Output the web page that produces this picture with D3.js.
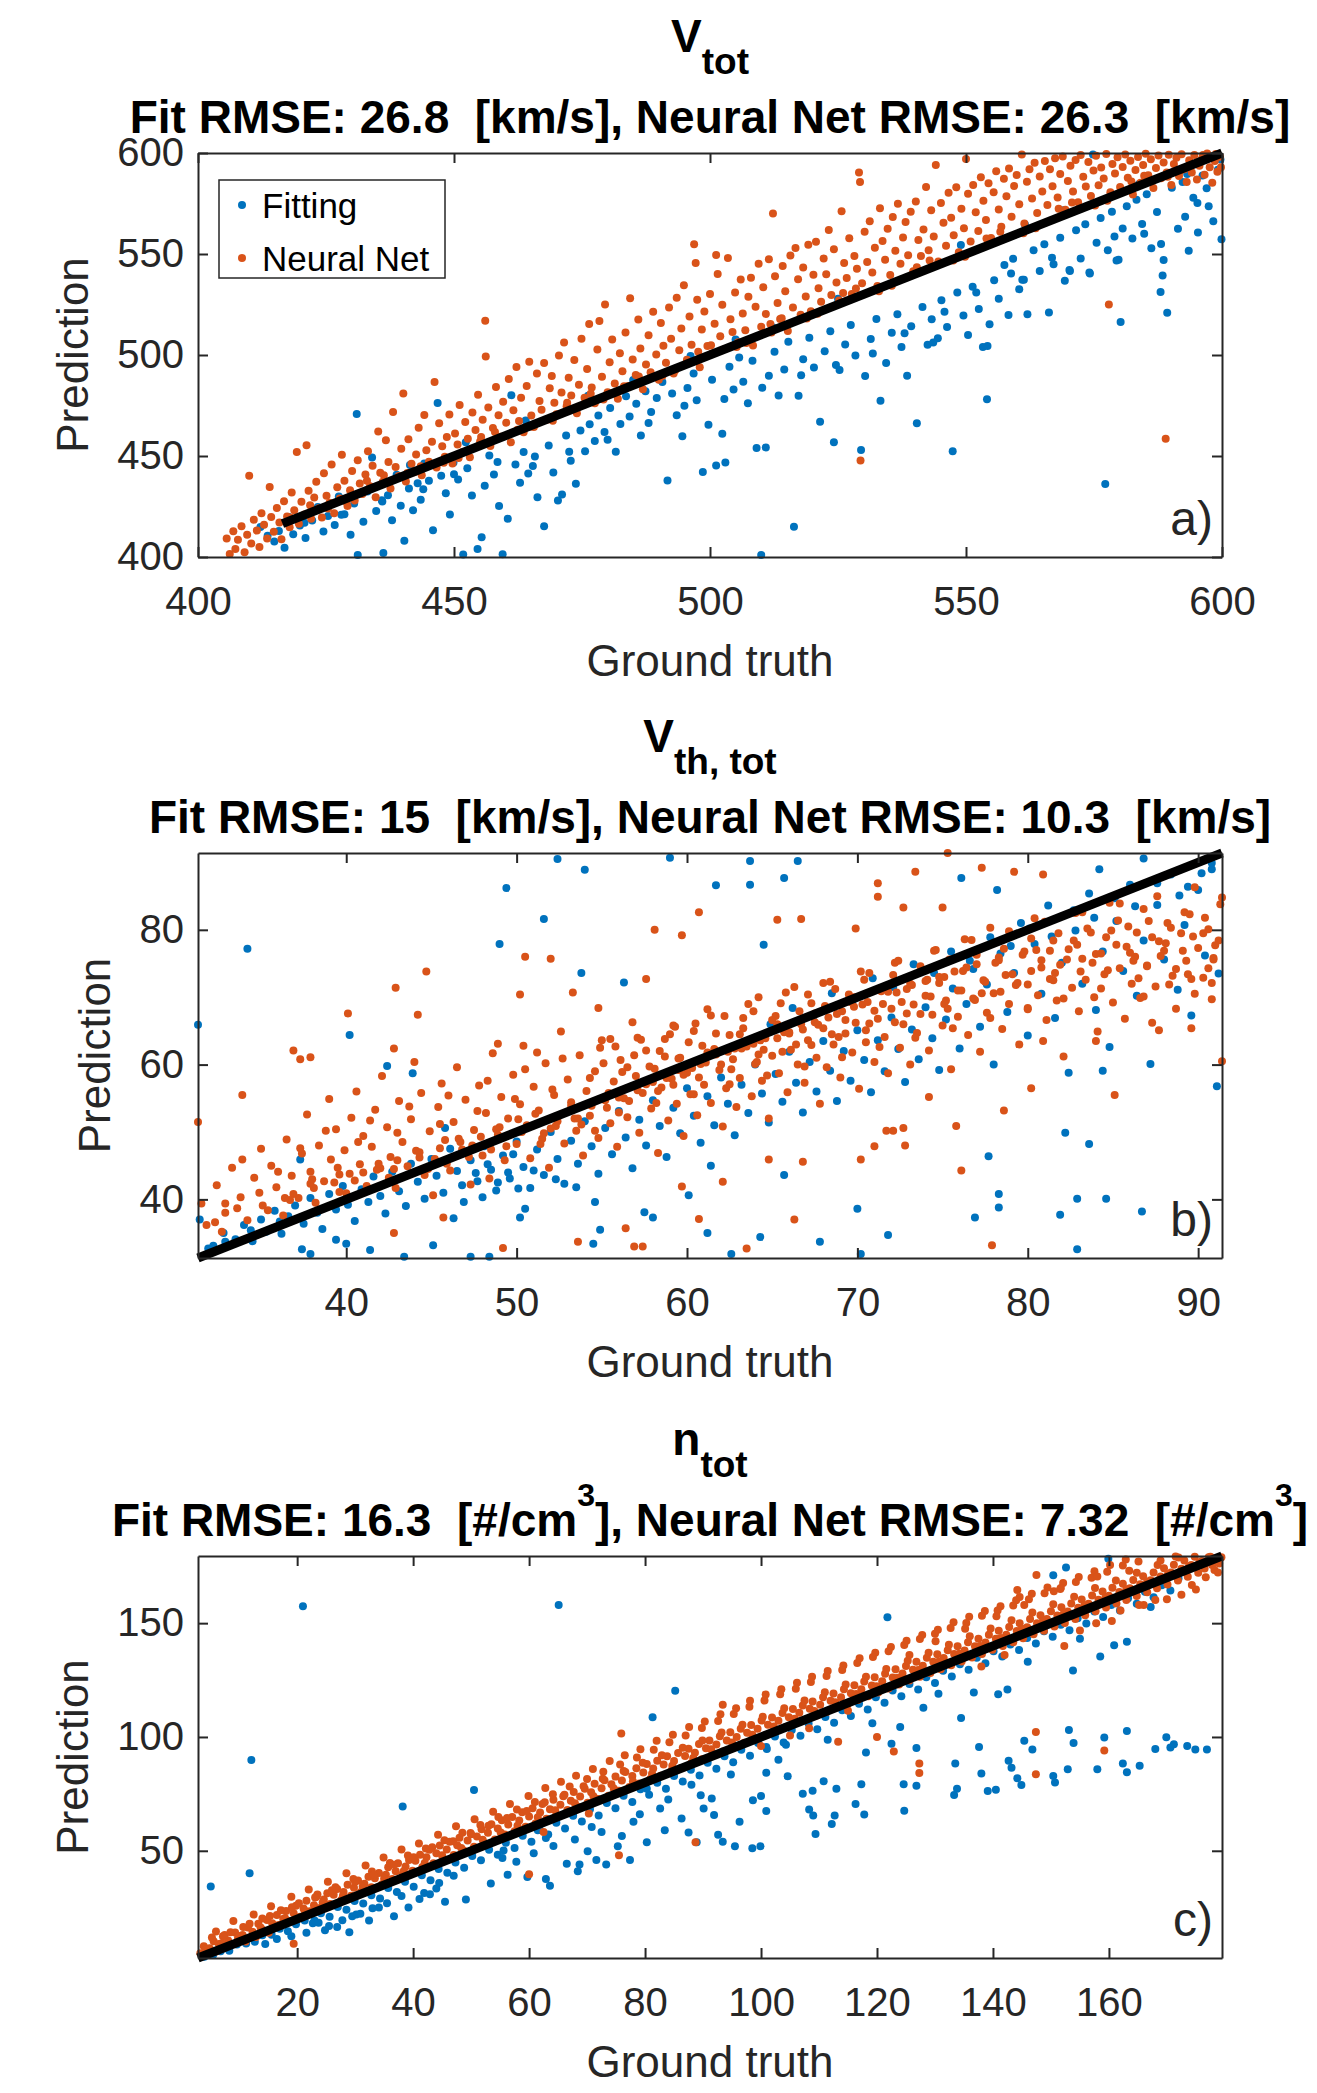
<!DOCTYPE html>
<html>
<head>
<meta charset="utf-8">
<script src="https://cdn.jsdelivr.net/npm/d3@7"></script>
<style>
body { margin: 0; background: #fff; }
svg { display: block; font-family: "Liberation Sans", Arial, sans-serif; }
</style>
</head>
<body>
<svg id="fig" width="1317" height="2093"></svg>
<script>
// ---- data ----
const panelLetters = ['a)', 'b)', 'c)'];
const titleSymbols = [['V', 'tot'], ['V', 'th, tot'], ['n', 'tot']];
const titleRmse = [
    'Fit RMSE: 26.8  [km/s], Neural Net RMSE: 26.3  [km/s]',
    'Fit RMSE: 15  [km/s], Neural Net RMSE: 10.3  [km/s]',
    'Fit RMSE: 16.3  [#/cm^3], Neural Net RMSE: 7.32  [#/cm^3]'
];
const xLabel = 'Ground truth';
const yLabel = 'Prediction';
const legendLabels = ['Fitting', 'Neural Net'];

const domains = [[400, 600], [31.3, 91.4], [2.9, 179.5]];
const xTicks = [[400, 450, 500, 550, 600], [40, 50, 60, 70, 80, 90], [20, 40, 60, 80, 100, 120, 140, 160]];
const yTicks = [[400, 450, 500, 550, 600], [40, 60, 80], [50, 100, 150]];

// black reference lines (ground truth = prediction)
const diagA = [[416.5, 416.5], [600, 600]];
const diagB = [[31.3, 31.3], [91.4, 91.4]];
const diagC = [[2.9, 2.9], [179.5, 179.5]];

// panel a, Fitting  [ground truth, prediction]
const fitA = [[412.2,414.8],[413.6,410.5],[414.9,407.7],[415.8,412.9],[416.9,404.6],[417.7,419.8],[418.6,411.3],[419.9,415.6],[421.0,409.4],[422.3,418.1],[423.4,424.7],[424.5,412.6],[425.4,420.3],[426.7,415.8],[427.5,429.9],[428.6,421.2],[429.8,411.0],[430.5,426.5],[431.0,470.8],[431.2,401.0],[432.3,417.4],[433.1,432.4],[434.0,449.3],[434.8,422.8],[435.9,428.1],[436.2,402.0],[437.1,430.6],[437.9,418.2],[438.8,440.7],[439.6,425.4],[440.3,408.0],[441.2,433.9],[442.0,423.1],[442.9,436.5],[443.5,428.3],[444.2,446.3],[445.1,437.7],[445.9,413.2],[446.8,476.2],[447.5,440.2],[448.4,431.6],[449.2,421.0],[449.9,446.8],[450.8,438.4],[451.8,401.2],[452.6,443.9],[453.5,430.5],[454.6,403.9],[455.4,409.8],[456.0,435.3],[456.9,450.2],[457.8,440.8],[458.8,425.2],[459.5,401.3],[460.5,418.9],[461.2,480.1],[462.0,445.8],[462.9,436.7],[463.6,452.0],[464.5,441.3],[465.4,445.0],[466.3,429.6],[467.6,415.2],[468.5,455.2],[469.4,441.8],[470.3,428.0],[471.1,431.0],[471.9,460.1],[472.8,447.6],[473.8,436.3],[474.7,462.6],[475.6,452.3],[476.5,465.7],[477.5,457.4],[478.2,470.0],[479.4,461.9],[480.5,473.8],[481.6,452.1],[482.5,465.8],[483.6,479.6],[484.3,469.5],[485.6,475.9],[486.5,460.2],[487.4,482.0],[488.5,471.8],[489.6,478.7],[490.7,486.6],[491.7,437.9],[492.6,480.9],[493.5,470.2],[494.6,459.8],[495.6,483.7],[496.8,490.9],[497.4,477.6],[498.6,442.1],[499.7,465.5],[500.4,487.8],[501.2,445.3],[502.4,461.0],[503.0,446.8],[503.8,494.2],[504.6,482.9],[505.7,498.8],[506.5,486.7],[507.4,476.1],[508.3,497.2],[509.1,454.0],[510.0,401.0],[510.9,454.2],[511.5,489.7],[512.6,501.6],[513.4,480.0],[514.5,492.8],[515.3,506.5],[516.4,415.0],[517.3,479.8],[518.2,497.9],[519.4,508.6],[520.3,493.8],[521.5,467.0],[522.4,501.8],[523.5,511.7],[524.2,456.8],[525.3,492.6],[526.4,505.2],[527.5,514.9],[528.4,499.7],[529.5,453.0],[530.3,489.6],[531.4,507.9],[532.5,517.8],[533.3,477.3],[534.4,496.1],[535.5,511.0],[536.6,520.2],[537.4,503.9],[538.5,489.7],[539.3,514.2],[540.4,466.2],[541.5,523.8],[542.5,505.1],[543.3,517.7],[544.5,508.3],[545.2,527.1],[546.3,513.8],[547.4,452.4],[548.3,530.9],[549.5,519.6],[550.4,509.9],[551.3,533.8],[552.5,522.8],[553.3,504.0],[554.1,478.1],[554.6,515.2],[555.5,537.0],[556.4,527.8],[557.5,544.6],[558.3,519.8],[559.2,547.7],[560.4,532.6],[561.3,537.3],[562.0,520.2],[563.2,551.9],[564.4,541.6],[565.3,554.8],[566.2,521.1],[567.1,544.9],[568.4,558.0],[569.3,536.7],[570.2,542.1],[571.5,561.8],[572.4,547.8],[573.3,564.7],[574.1,540.9],[574.8,599.2],[575.5,555.6],[576.3,567.8],[577.2,436.1],[577.7,551.9],[578.5,570.9],[579.4,546.8],[580.2,516.3],[580.6,562.6],[581.4,573.7],[582.5,557.7],[583.3,576.9],[584.4,564.8],[585.3,579.6],[586.2,552.8],[587.3,570.8],[588.0,531.2],[588.4,539.3],[588.6,547.0],[589.3,520.9],[590.2,582.8],[591.4,562.5],[592.3,585.7],[593.5,551.6],[594.4,577.8],[595.3,560.7],[596.2,588.8],[597.4,573.7],[598.3,566.2],[599.2,591.7],[599.9,557.3],[599.7,596.8],[597.0,582.6],[593.2,589.6],[583.8,584.7],[569.0,571.7],[561.5,564.6],[549.0,554.5],[534.8,534.6],[525.0,527.8],[512.3,513.6],[505.0,507.7],[496.2,499.5],[485.0,487.6],[476.2,479.8],[464.0,467.6],[452.3,456.8],[441.4,445.6],[554.2,504.5],[543.6,506.2],[561.0,537.2],[570.3,541.6],[574.2,540.4],[579.8,547.1],[588.1,555.0],[592.8,568.4],[595.2,575.2],[584.8,560.0],[579.0,558.7],[566.8,548.2],[558.8,540.3],[552.0,531.0],[545.8,521.4],[538.0,510.8],[531.8,500.7],[524.6,495.0],[517.8,490.0],[510.2,483.8],[502.8,478.2],[495.0,474.9],[488.0,466.3],[480.0,458.0],[472.5,452.1],[465.8,449.8],[458.5,447.0],[450.0,441.0],[444.0,433.6],[436.0,427.5],[428.0,420.9],[420.8,417.0]];

// panel a, Neural Net
const netA = [[405.6,409.1],[406.2,401.5],[406.9,412.8],[407.3,404.0],[407.8,408.6],[408.5,415.2],[409.1,402.3],[409.6,411.0],[410.0,440.2],[410.4,406.7],[410.9,418.5],[411.5,413.1],[412.0,404.9],[412.4,421.7],[412.9,416.0],[413.5,409.2],[414.0,434.6],[414.3,419.8],[414.8,412.5],[415.4,424.3],[415.9,417.1],[416.3,408.8],[416.8,427.6],[417.4,420.0],[417.9,414.7],[418.3,431.9],[418.8,423.2],[419.3,452.0],[419.7,416.5],[420.2,427.4],[420.8,421.0],[421.2,455.3],[421.6,432.8],[422.1,418.9],[422.7,429.5],[423.1,437.2],[423.6,424.1],[424.2,419.6],[424.6,441.4],[425.1,430.3],[425.7,426.9],[426.1,445.8],[426.6,421.7],[427.2,434.5],[427.7,429.0],[428.1,450.6],[428.6,437.8],[429.2,425.3],[429.7,433.1],[430.1,442.6],[430.6,428.0],[431.2,447.9],[431.6,436.4],[432.1,431.2],[432.7,440.9],[433.2,452.3],[433.6,435.0],[434.1,445.2],[434.7,429.6],[435.2,462.1],[435.6,441.7],[436.1,437.3],[436.7,457.8],[437.2,447.0],[437.6,433.9],[438.1,471.8],[438.6,444.5],[439.2,440.1],[439.7,453.6],[440.1,481.0],[440.6,437.4],[441.1,458.3],[441.7,446.2],[442.2,442.0],[442.6,450.8],[443.1,464.0],[443.7,440.5],[444.2,470.3],[444.6,452.9],[445.1,447.1],[445.7,457.0],[446.2,486.6],[446.6,444.3],[447.1,466.2],[447.7,454.8],[448.2,449.6],[448.6,459.4],[449.1,470.6],[449.7,446.3],[450.2,461.1],[450.7,455.7],[451.1,475.2],[451.6,451.8],[452.2,466.8],[452.7,458.6],[453.1,449.4],[453.6,471.5],[454.2,462.9],[454.7,480.3],[455.1,457.2],[455.6,467.9],[456.1,517.0],[456.2,499.2],[456.7,474.0],[457.1,455.0],[457.6,463.8],[458.2,484.2],[458.7,470.2],[459.1,459.5],[459.6,476.9],[460.2,466.5],[460.7,488.1],[461.1,456.8],[461.6,472.6],[462.2,494.0],[462.7,467.3],[463.1,478.8],[463.6,461.7],[464.2,484.6],[464.7,496.6],[465.1,470.0],[465.6,464.4],[466.2,490.8],[466.7,477.2],[467.1,472.9],[467.6,496.0],[468.2,468.1],[468.7,483.5],[469.1,489.6],[469.6,476.3],[470.0,470.7],[470.5,499.8],[471.0,481.4],[471.5,506.2],[472.0,474.6],[472.4,488.7],[472.9,479.9],[473.5,497.5],[474.0,471.2],[474.4,485.3],[474.9,508.0],[475.5,478.8],[476.0,493.1],[476.4,515.3],[476.9,483.9],[477.5,476.1],[478.0,502.7],[478.4,516.8],[478.9,489.2],[479.5,525.0],[480.0,481.6],[480.4,496.4],[480.9,507.7],[481.4,485.9],[482.0,478.3],[482.4,500.9],[482.9,492.0],[483.5,511.2],[484.0,484.7],[484.4,528.1],[484.9,497.8],[485.5,490.1],[486.0,517.6],[486.4,503.2],[486.9,483.0],[487.5,495.3],[488.0,509.8],[488.4,491.5],[488.9,521.4],[489.5,500.3],[490.0,487.7],[490.4,515.9],[490.9,504.6],[491.4,496.2],[492.0,523.5],[492.4,508.0],[492.9,490.8],[493.5,528.3],[494.0,502.4],[494.4,513.1],[494.9,534.5],[495.5,497.7],[496.0,519.0],[496.4,505.1],[496.9,554.8],[497.2,545.6],[497.5,527.4],[498.0,493.9],[498.4,512.6],[498.9,521.5],[499.5,504.4],[500.0,530.2],[500.4,500.7],[500.9,515.5],[501.2,549.5],[501.5,540.1],[502.0,509.3],[502.4,524.9],[502.9,503.0],[503.5,548.0],[504.0,517.7],[504.4,511.4],[504.9,531.0],[505.5,506.3],[506.0,537.4],[506.4,520.6],[506.9,512.2],[507.5,528.8],[508.0,538.3],[508.4,504.7],[508.9,523.9],[509.5,545.2],[510.0,514.0],[510.4,533.6],[510.9,520.3],[511.5,547.4],[512.0,511.1],[512.3,570.1],[512.7,539.0],[513.2,525.7],[513.7,517.8],[514.2,544.0],[514.7,531.6],[515.2,511.9],[515.7,549.2],[516.2,523.5],[516.7,553.0],[517.2,537.5],[517.7,519.9],[518.2,543.3],[518.7,529.0],[519.2,554.6],[519.7,521.6],[520.2,539.7],[520.7,556.1],[521.2,533.1],[521.7,526.4],[522.2,547.8],[522.7,540.0],[523.2,561.9],[523.7,529.7],[524.2,552.4],[524.7,535.9],[525.2,527.0],[525.7,571.2],[526.2,545.5],[526.7,538.1],[527.2,557.8],[527.7,530.2],[528.2,549.0],[528.7,542.7],[529.1,590.3],[529.3,585.6],[529.7,535.5],[529.4,447.8],[530.2,561.0],[530.7,546.0],[531.2,566.2],[531.7,540.9],[532.2,553.1],[532.7,534.2],[533.2,572.6],[533.7,556.4],[534.2,547.1],[534.7,562.5],[535.2,539.6],[535.7,568.3],[536.2,551.6],[536.7,574.9],[537.2,545.2],[537.7,558.2],[538.2,565.8],[538.7,549.4],[539.2,570.9],[539.7,541.5],[540.2,576.0],[540.7,556.9],[541.2,549.0],[541.7,562.1],[542.2,583.2],[542.7,551.8],[543.2,571.7],[543.7,558.7],[544.1,594.0],[544.6,546.3],[545.1,575.2],[545.6,565.5],[546.1,554.1],[546.6,580.3],[547.1,568.0],[547.6,559.3],[548.1,583.0],[548.6,550.9],[549.1,572.4],[549.6,562.7],[550.0,597.0],[550.4,579.8],[550.9,556.2],[551.4,584.1],[551.9,570.7],[552.4,561.4],[552.9,588.0],[553.4,576.3],[553.9,566.8],[554.4,585.0],[554.9,557.9],[555.4,580.6],[555.9,591.0],[556.4,572.0],[556.9,563.5],[557.4,587.2],[557.9,578.6],[558.4,592.3],[558.9,568.4],[559.4,583.7],[559.9,589.1],[560.4,574.6],[560.9,599.2],[561.4,565.1],[561.9,585.8],[562.4,592.0],[562.9,577.5],[563.4,595.2],[563.9,570.3],[564.4,588.4],[564.9,581.0],[565.4,596.1],[565.9,574.2],[566.4,591.9],[566.9,583.5],[567.4,597.4],[567.9,578.0],[568.4,589.6],[568.9,598.3],[569.4,571.9],[569.9,586.1],[570.4,593.7],[570.9,580.9],[571.4,596.5],[571.9,575.6],[572.4,599.0],[572.9,588.2],[573.4,583.4],[573.9,595.6],[574.4,578.7],[574.9,591.3],[575.4,598.6],[575.9,584.0],[576.4,592.8],[576.9,587.4],[577.4,599.5],[577.9,525.0],[578.2,580.6],[578.6,594.6],[579.1,589.8],[579.6,597.9],[580.1,583.2],[580.6,593.1],[581.1,599.3],[581.6,587.7],[582.1,596.2],[582.6,579.4],[583.1,591.6],[583.6,598.0],[584.1,585.3],[584.6,594.1],[585.1,599.6],[585.6,589.0],[586.1,596.9],[586.6,582.7],[587.1,592.6],[587.6,598.8],[588.1,587.5],[588.6,595.3],[589.0,458.5],[589.2,590.3],[589.6,599.1],[590.1,584.1],[590.6,594.5],[591.1,597.6],[591.6,588.6],[592.1,599.4],[592.6,592.0],[593.1,585.6],[593.6,596.4],[594.1,590.4],[594.6,599.0],[595.1,586.9],[595.6,593.7],[596.1,597.3],[596.6,589.2],[597.1,599.7],[597.6,592.9],[598.1,585.3],[598.6,596.0],[599.1,590.7],[599.6,598.2],[599.8,593.0],[418.0,419.5],[425.4,424.0],[433.0,437.8],[440.9,441.6],[448.0,446.7],[455.3,459.4],[462.4,463.0],[469.3,467.5],[476.7,480.8],[483.2,484.5],[490.7,489.6],[497.7,501.6],[505.2,504.0],[511.8,515.3],[518.9,518.1],[526.0,530.7],[533.0,531.6],[540.4,543.5],[547.5,546.8],[554.0,557.7],[561.2,560.3],[568.1,572.4],[575.2,574.0],[582.3,585.9],[589.4,588.2],[596.3,599.0],[421.9,425.6],[429.0,427.2],[436.3,440.5],[443.5,444.9],[450.9,449.0],[458.0,461.9],[465.0,464.6],[472.1,476.4],[479.2,478.0],[486.1,489.3],[493.2,492.5],[500.2,504.8],[507.1,505.9],[514.0,518.2],[521.0,520.4],[528.5,532.9],[535.5,534.3],[542.9,546.8],[549.8,548.7],[556.7,561.0],[563.6,562.8],[570.7,575.5],[577.6,576.4],[584.8,588.7],[591.8,591.0],[598.8,599.5]];

// panel b, Fitting
const fitB = [[32.2,33.1],[32.8,35.0],[33.5,34.1],[34.0,36.2],[34.5,33.8],[35.0,37.0],[35.3,35.2],[35.8,38.3],[36.2,34.9],[36.6,37.5],[37.0,39.1],[37.5,36.4],[37.9,40.2],[38.3,38.0],[38.6,35.6],[39.0,40.8],[39.4,38.5],[39.8,42.0],[40.1,39.2],[40.5,36.8],[40.9,41.5],[41.3,39.6],[41.6,43.4],[42.0,40.5],[42.3,37.9],[42.7,44.1],[43.1,41.2],[43.5,39.0],[43.8,45.3],[44.2,42.6],[44.6,40.1],[45.0,46.0],[45.3,43.5],[45.7,41.0],[46.1,47.5],[46.5,44.2],[46.9,39.6],[47.3,45.8],[47.7,42.7],[48.1,47.9],[48.5,44.4],[48.8,41.3],[49.2,46.5],[49.6,43.1],[50.0,48.6],[50.4,44.8],[50.8,41.7],[51.2,47.4],[51.6,43.6],[52.0,50.0],[52.4,46.0],[52.8,42.3],[53.2,48.7],[53.6,45.3],[54.0,51.6],[54.4,47.9],[54.8,43.8],[55.2,50.6],[55.6,46.7],[56.0,53.1],[56.4,49.2],[56.8,44.6],[57.2,51.8],[57.6,48.0],[58.0,54.7],[58.4,50.9],[58.8,46.3],[59.2,53.6],[59.6,49.8],[60.0,56.5],[60.4,52.4],[60.8,48.4],[61.2,55.3],[61.6,51.0],[62.0,58.1],[62.4,54.2],[62.8,49.5],[63.2,57.0],[63.6,52.8],[64.0,60.0],[64.4,55.7],[64.8,51.4],[65.2,58.6],[65.6,54.5],[66.0,61.9],[66.4,57.3],[66.8,52.9],[67.2,60.4],[67.6,56.0],[68.0,63.5],[68.4,59.1],[68.8,54.6],[69.2,62.0],[69.6,57.6],[70.0,65.1],[70.4,60.7],[70.8,55.9],[71.2,63.6],[71.6,59.0],[72.0,67.0],[72.4,62.3],[72.8,57.4],[73.2,65.2],[73.6,60.8],[74.0,68.5],[74.4,63.9],[74.8,59.2],[75.2,66.7],[75.6,71.3],[76.0,62.4],[76.4,69.0],[76.8,74.2],[77.2,65.6],[77.6,71.9],[78.0,60.0],[78.4,76.5],[78.8,67.8],[79.2,73.6],[79.6,81.0],[80.0,64.3],[80.4,77.9],[80.8,70.5],[81.2,83.6],[81.6,66.9],[82.0,75.1],[82.4,58.8],[82.8,79.9],[83.2,72.0],[83.6,85.4],[84.0,68.1],[84.4,76.8],[84.8,62.6],[85.2,81.3],[85.6,73.9],[86.0,86.7],[86.4,70.2],[86.8,78.4],[87.2,60.1],[87.6,83.7],[88.0,75.6],[88.4,88.2],[88.8,71.1],[89.2,80.7],[89.6,67.3],[90.0,85.9],[90.4,76.2],[90.8,89.0],[91.2,73.5],[34.2,77.2],[31.3,65.9],[40.2,64.4],[49.0,77.9],[49.4,86.2],[52.4,90.5],[54.0,88.9],[51.6,81.6],[53.8,73.6],[56.3,72.2],[59.0,90.7],[61.7,86.6],[63.7,90.2],[63.7,86.7],[65.7,87.7],[66.5,90.2],[64.5,77.8],[76.1,87.7],[78.2,85.9],[84.2,89.0],[86.8,90.6],[89.4,86.4],[90.8,89.9],[91.1,56.8],[84.4,59.1],[83.6,48.2],[82.2,49.9],[82.9,32.6],[82.9,40.1],[81.9,37.7],[84.6,40.1],[86.7,38.2],[77.7,46.4],[78.3,40.8],[78.3,38.8],[76.9,37.3],[71.8,34.7],[70.2,31.9],[70.0,38.6],[67.8,33.7],[65.7,43.6],[62.6,31.9],[64.3,34.4],[61.2,35.0],[60.1,40.6],[61.4,45.0],[58.0,37.3],[57.5,38.1],[54.6,39.6],[54.9,35.5],[54.5,33.4],[50.2,37.3],[50.5,38.6],[48.4,31.5],[47.3,31.5],[46.3,37.2],[45.1,33.2],[43.4,31.5],[41.4,32.5],[40.0,33.4],[39.4,34.0],[37.9,31.9],[37.4,32.6],[36.1,36.7],[34.4,35.4],[32.9,33.7],[31.9,32.7],[31.4,37.0],[37.3,45.9],[42.4,59.8],[43.9,58.7],[45.8,50.6],[47.6,43.9],[48.3,45.2],[48.9,42.5],[49.5,44.0],[50.1,41.6],[48.0,40.3],[46.8,42.1],[49.8,46.7],[51.0,44.3],[52.3,43.0],[53.5,41.8],[64.9,66.0],[66.2,68.4],[67.4,67.1],[68.5,70.6],[69.7,69.2],[70.9,72.8],[72.1,71.5],[73.3,74.9],[74.5,73.6],[75.5,76.8],[76.6,75.4],[77.8,78.9],[79.0,77.6],[80.1,80.2],[81.4,79.0],[82.7,82.9],[83.9,81.8],[85.1,84.7],[86.3,83.5],[87.6,86.9],[88.9,85.1],[90.2,88.4]];

// panel b, Neural Net
const netB = [[31.8,36.2],[32.4,42.1],[32.9,38.0],[33.3,44.7],[33.8,40.3],[34.2,36.9],[34.6,43.2],[35.0,47.5],[35.1,39.1],[35.6,45.0],[35.9,41.8],[36.3,37.6],[36.5,48.9],[36.8,43.5],[37.2,40.2],[37.4,46.8],[37.7,52.6],[37.9,44.1],[38.2,39.5],[38.4,48.0],[38.7,42.7],[39.0,54.9],[39.1,45.9],[39.4,50.4],[39.6,41.1],[39.9,47.3],[40.2,43.8],[40.3,52.1],[40.6,56.0],[40.8,45.2],[41.0,49.4],[41.2,42.0],[41.5,47.8],[41.7,53.3],[42.0,44.6],[42.1,58.3],[42.4,50.7],[42.6,46.3],[42.9,41.7],[43.1,54.6],[43.3,48.5],[43.6,44.9],[43.8,51.9],[44.0,60.4],[44.1,47.2],[44.4,55.8],[44.6,43.6],[44.9,50.1],[45.2,46.0],[45.4,53.7],[45.6,57.2],[45.8,48.8],[46.1,44.3],[46.3,51.5],[46.5,59.6],[46.8,47.4],[47.0,54.8],[47.3,42.2],[47.5,50.3],[47.8,56.9],[48.0,46.5],[48.2,52.8],[48.4,43.1],[48.6,61.7],[48.9,49.6],[49.1,55.2],[49.3,45.8],[49.5,52.0],[49.8,58.5],[50.0,48.2],[50.2,54.1],[50.4,62.8],[50.6,51.0],[50.8,46.1],[51.0,56.7],[51.3,53.2],[51.5,49.0],[51.7,60.2],[51.9,44.7],[52.2,55.5],[52.4,51.6],[52.6,64.9],[52.8,48.3],[53.0,57.8],[53.2,53.9],[53.5,50.2],[53.7,61.4],[53.9,46.5],[54.1,56.1],[54.3,52.4],[54.6,59.0],[54.8,49.1],[55.0,63.6],[55.2,54.7],[55.5,51.3],[55.7,57.5],[55.9,47.8],[56.1,60.7],[56.3,55.0],[56.5,52.2],[56.8,66.3],[57.0,58.3],[57.2,49.9],[57.4,55.8],[57.6,62.1],[57.9,53.5],[58.1,59.4],[58.3,46.9],[58.5,56.6],[58.7,63.8],[58.9,51.7],[59.1,57.9],[59.4,54.2],[59.6,61.0],[59.8,49.4],[60.0,58.8],[60.2,55.6],[60.4,65.0],[60.6,52.5],[60.8,60.1],[61.0,57.0],[61.2,68.2],[61.4,54.3],[61.6,62.3],[61.9,59.2],[62.1,50.8],[62.3,56.5],[62.5,64.4],[62.7,60.8],[62.9,53.7],[63.1,58.0],[63.3,66.9],[63.5,62.7],[63.8,55.3],[64.0,60.1],[64.2,70.0],[64.4,57.6],[64.6,63.9],[64.8,52.0],[65.0,61.3],[65.2,67.2],[65.4,58.7],[65.7,64.8],[65.9,55.9],[66.1,62.2],[66.3,71.5],[66.5,60.0],[66.7,66.0],[66.9,57.3],[67.1,63.6],[67.3,69.1],[67.6,61.0],[67.8,54.2],[68.0,65.4],[68.2,59.6],[68.4,72.3],[68.6,63.0],[68.8,67.5],[69.0,58.1],[69.3,64.6],[69.5,70.4],[69.7,61.8],[69.9,66.2],[70.1,56.4],[70.3,68.9],[70.5,63.3],[70.7,73.6],[71.0,60.4],[71.2,66.8],[71.4,70.9],[71.6,64.1],[71.8,58.7],[72.0,68.3],[72.2,75.1],[72.5,62.5],[72.7,66.0],[72.9,71.2],[73.1,60.0],[73.3,68.9],[73.5,64.7],[73.7,74.6],[74.0,70.2],[74.2,62.1],[74.4,67.4],[74.6,77.0],[74.8,72.1],[75.0,65.8],[75.2,69.5],[75.5,59.3],[75.7,73.8],[75.9,67.1],[76.1,71.0],[76.3,78.6],[76.5,64.4],[76.8,69.8],[77.0,74.9],[77.2,61.9],[77.4,72.5],[77.6,67.7],[77.8,80.3],[78.0,70.6],[78.3,75.9],[78.5,65.3],[78.7,73.3],[78.9,69.0],[79.1,79.2],[79.3,71.8],[79.5,63.0],[79.8,76.8],[80.0,68.4],[80.2,73.9],[80.4,81.7],[80.6,70.3],[80.8,75.5],[81.1,66.6],[81.3,72.7],[81.5,78.4],[81.7,69.5],[81.9,74.8],[82.1,61.2],[82.4,77.1],[82.6,71.4],[82.8,82.5],[83.0,67.9],[83.2,75.7],[83.4,72.6],[83.7,79.6],[83.9,70.0],[84.1,64.9],[84.3,76.5],[84.5,73.4],[84.8,84.0],[85.0,69.2],[85.2,77.8],[85.4,74.3],[85.7,66.8],[85.9,80.5],[86.1,72.0],[86.3,76.0],[86.6,69.9],[86.8,83.1],[87.0,74.7],[87.3,78.9],[87.5,71.6],[87.7,65.1],[88.0,76.9],[88.2,81.0],[88.5,73.2],[88.7,68.3],[89.0,79.5],[89.3,75.4],[89.5,82.3],[89.8,70.5],[90.0,77.3],[90.3,72.9],[90.6,80.1],[90.9,75.8],[91.2,78.4],[55.3,53.6],[56.0,55.1],[57.1,56.2],[58.0,57.4],[58.8,58.0],[59.5,59.2],[60.3,59.5],[61.1,60.3],[61.7,61.5],[62.4,61.9],[63.2,62.4],[63.9,63.1],[64.5,62.2],[65.3,63.9],[66.0,64.6],[66.8,65.2],[67.5,66.3],[68.3,67.0],[69.1,67.9],[69.8,68.6],[70.6,69.3],[71.5,69.0],[72.3,70.7],[73.2,71.8],[74.1,72.6],[75.1,73.0],[52.3,50.9],[53.4,52.0],[54.4,53.9],[50.1,51.9],[49.0,50.7],[47.9,49.3],[46.7,48.5],[45.5,47.6],[44.3,46.2],[43.0,45.8],[41.8,44.4],[40.5,42.8],[39.3,42.5],[38.1,41.7],[36.9,40.8],[35.4,38.4],[75.3,91.4],[73.4,88.6],[77.3,89.2],[79.2,88.6],[80.9,88.2],[71.2,86.9],[71.2,84.9],[72.7,83.3],[75.0,83.3],[69.9,80.2],[65.3,81.5],[66.7,81.6],[60.7,82.6],[58.1,80.0],[59.7,79.2],[91.4,84.8],[91.4,60.5],[90.8,69.7],[90.6,74.3],[89.6,72.7],[89.6,65.4],[88.3,71.9],[86.8,70.1],[87.3,66.2],[85.1,55.5],[84.0,63.5],[80.9,63.5],[80.2,56.5],[78.6,53.2],[77.9,33.2],[76.1,44.3],[75.8,50.9],[74.2,55.2],[72.7,50.6],[72.1,50.2],[71.7,50.2],[71.0,47.9],[72.8,48.0],[70.2,45.9],[66.8,45.6],[66.3,37.0],[64.8,45.9],[63.5,32.7],[62.1,42.6],[60.7,37.1],[59.7,41.9],[57.4,33.0],[56.9,33.0],[56.4,35.7],[53.6,33.7],[49.2,32.8],[45.7,37.3],[45.1,40.6],[42.8,35.0],[32.9,39.4],[31.5,39.4],[31.3,51.5],[32.3,36.6],[33.9,45.9],[33.9,55.5],[36.9,62.1],[37.3,60.8],[37.9,61.1],[40.1,67.6],[42.8,62.4],[44.2,67.4],[44.7,73.8],[42.9,71.4],[50.5,76.0],[52.0,75.7],[50.2,70.4],[48.9,63.1],[53.3,70.7],[54.8,68.4],[57.6,72.7],[55.5,63.8],[51.2,61.8],[59.2,65.8],[36.0,44.1],[36.7,39.9],[37.3,47.6],[38.0,43.0],[38.8,50.2],[39.5,44.7],[40.0,40.9],[40.7,48.5],[41.4,51.7],[41.9,45.3],[42.5,43.2],[43.0,49.9],[43.7,53.8],[44.3,47.0],[44.8,44.5],[45.5,51.2],[46.0,55.4],[46.6,49.0],[47.2,46.3],[47.7,53.1],[48.3,57.6],[48.8,50.4],[49.4,47.9],[49.9,54.9],[50.5,59.3],[51.1,52.7],[51.6,49.8],[52.1,56.3],[52.7,60.9],[53.2,54.4],[53.8,51.1],[54.3,58.0],[54.9,62.5],[55.4,55.8],[56.0,52.9],[56.5,59.6],[57.1,64.0],[57.6,57.1],[58.2,54.3],[58.7,61.2],[59.3,65.6],[59.8,58.5],[60.4,55.6],[60.9,62.8],[61.4,67.3],[62.0,60.0],[62.5,57.1],[63.1,64.5],[63.6,69.0],[64.2,61.5],[64.7,58.4],[65.3,66.0],[65.8,70.7],[66.4,63.0],[66.9,59.7],[67.5,67.6],[68.0,72.1],[68.5,64.5],[69.1,61.1],[69.6,69.3],[70.2,73.8],[70.7,66.1],[71.3,62.6],[71.8,70.8],[72.4,75.4],[72.9,67.6],[73.4,64.0],[74.0,72.4],[74.5,76.9],[75.1,69.0],[75.6,65.4],[76.2,73.9],[76.7,78.5],[77.3,70.6],[77.8,66.9],[78.3,75.5],[78.9,79.8],[79.4,72.1],[80.0,68.2],[80.5,77.0],[81.0,81.2],[81.6,73.6],[82.1,69.8],[82.7,78.4],[83.2,82.6],[83.8,75.1],[84.3,71.3],[84.9,79.9],[85.4,83.9],[86.0,76.6],[86.5,72.8],[87.1,81.3],[87.6,85.0],[88.1,78.0],[88.7,74.2],[89.2,82.6],[89.8,86.3],[90.3,79.5],[90.9,75.6],[91.3,83.8],[55.1,60.2],[55.8,62.7],[56.2,58.9],[56.9,61.4],[57.3,63.7],[57.8,59.7],[58.4,62.0],[59.0,64.5],[59.5,60.9],[60.1,63.3],[60.5,66.1],[61.2,61.8],[61.7,64.6],[62.2,67.2],[62.8,62.4],[63.3,65.4],[63.9,67.9],[64.3,63.6],[65.0,66.6],[65.5,69.1],[66.0,64.8],[66.6,67.9],[67.1,70.4],[67.7,65.9],[68.1,68.7],[68.7,71.2],[69.3,66.6],[69.8,70.0],[70.4,72.6],[71.0,68.0],[71.5,71.4],[72.1,73.3],[72.6,69.3],[73.1,72.0],[73.8,74.1],[74.3,70.1],[74.8,73.0],[75.4,75.6],[75.9,71.0],[76.4,74.4],[77.0,76.3],[77.5,72.3],[78.1,75.1],[78.6,77.2],[79.1,73.4],[79.7,76.3],[80.2,78.7],[80.8,74.4],[81.3,76.9],[81.8,79.5],[82.3,75.6],[82.9,77.8],[83.5,80.2],[84.0,76.4],[84.6,78.9],[85.3,81.4],[85.8,77.5],[86.4,79.6],[87.0,74.6],[87.7,78.3],[88.4,80.3],[89.1,76.9],[89.7,79.0],[90.4,81.8],[91.0,77.7],[59.2,57.0],[60.7,58.1],[62.6,59.3],[64.1,60.4],[65.6,61.9],[67.3,62.9],[68.9,64.1],[70.5,65.1],[72.2,66.3],[73.7,67.5],[75.3,68.3],[76.9,69.6],[78.4,70.8],[80.0,71.9],[81.5,72.5],[83.1,73.8],[84.7,74.0],[86.2,75.4],[87.8,76.1],[89.4,73.4],[90.8,72.1],[52.0,50.5],[53.6,52.0],[54.6,50.2],[56.6,54.6],[58.3,56.1],[45.9,45.3],[47.4,48.0],[48.5,47.4],[50.3,50.0],[51.4,48.2],[42.8,44.5],[41.0,44.0],[39.6,43.7],[37.9,42.3],[36.4,40.2],[34.9,41.0],[33.6,38.7],[32.7,35.2]];

// panel c, Fitting
const fitC = [[4.0,3.5],[5.5,4.2],[6.8,5.9],[8.3,6.1],[9.6,8.8],[11.2,9.3],[12.7,10.0],[14.0,12.9],[15.6,13.1],[17.0,15.8],[18.4,14.6],[19.8,17.7],[21.3,19.4],[22.7,18.2],[24.1,22.6],[25.6,21.0],[27.0,25.3],[28.5,24.1],[29.9,27.9],[31.4,26.8],[32.8,30.5],[34.3,29.0],[35.7,33.6],[37.2,31.9],[38.6,36.4],[40.1,34.2],[41.5,39.3],[43.0,37.1],[44.4,42.0],[45.9,40.3],[47.3,44.9],[48.8,42.6],[50.2,47.7],[51.7,45.8],[53.1,50.4],[54.6,48.3],[56.0,53.5],[57.5,51.2],[58.9,56.6],[60.4,54.0],[61.8,59.4],[63.3,57.1],[64.7,62.3],[66.2,59.8],[67.6,65.4],[69.1,62.9],[70.5,68.2],[72.0,65.5],[73.4,71.0],[74.9,68.7],[76.3,74.2],[77.8,71.4],[79.2,77.0],[80.7,74.6],[82.1,79.9],[83.6,77.2],[85.0,82.8],[86.5,80.4],[87.9,85.6],[89.4,83.1],[90.8,88.7],[92.3,86.0],[93.7,91.5],[95.2,88.9],[96.6,94.4],[98.1,91.8],[99.5,97.3],[101.0,94.7],[102.4,100.2],[103.9,97.6],[105.3,103.1],[106.8,100.5],[108.2,105.9],[109.7,103.4],[111.1,108.8],[112.6,106.3],[114.0,111.7],[115.5,109.2],[116.9,114.6],[118.4,112.1],[119.8,117.5],[121.3,115.0],[122.7,120.4],[124.2,117.9],[125.6,123.3],[127.1,120.8],[128.5,126.2],[130.0,123.7],[131.4,129.1],[132.9,126.6],[134.3,131.9],[135.8,129.5],[137.2,134.8],[138.7,132.4],[140.1,137.7],[141.6,135.3],[143.0,140.6],[144.5,138.2],[145.9,143.5],[147.4,141.1],[148.8,146.4],[150.3,144.0],[151.7,149.3],[153.2,146.9],[154.6,152.2],[156.1,149.8],[157.5,155.1],[159.0,152.7],[160.4,158.0],[161.9,155.6],[163.3,160.9],[164.8,158.5],[166.2,163.8],[167.7,161.4],[169.1,166.7],[170.6,164.3],[172.0,169.6],[21.0,157.4],[65.1,158.0],[12.1,89.9],[11.8,40.1],[5.1,34.3],[38.2,69.5],[50.5,76.7],[85.2,120.3],[81.3,108.7],[121.8,152.6],[150.4,171.0],[152.6,174.5],[159.9,178.3],[167.2,157.1],[163.1,141.8],[160.9,140.3],[158.5,135.4],[153.8,129.2],[142.5,120.8],[140.9,118.8],[134.5,108.3],[136.7,119.5],[124.0,104.4],[126.8,95.1],[122.5,97.0],[118.1,93.2],[124.6,79.2],[126.8,78.6],[124.7,67.6],[133.5,88.3],[133.8,77.2],[133.3,74.5],[137.6,95.6],[138.0,84.0],[139.1,76.3],[140.5,76.8],[142.7,89.5],[143.2,86.5],[144.2,81.9],[144.9,78.9],[145.4,98.3],[146.8,94.5],[153.1,103.1],[153.9,97.3],[150.4,82.9],[150.7,80.0],[152.9,85.8],[158.0,85.8],[159.2,99.8],[162.4,88.3],[163.1,102.6],[165.3,87.4],[163.1,84.5],[168.0,94.7],[169.9,99.9],[171.2,96.8],[173.5,96.0],[174.9,94.5],[176.9,94.5],[170.6,95.4],[116.3,70.5],[117.3,79.2],[113.0,77.2],[110.8,80.6],[108.9,76.4],[109.0,65.5],[108.3,68.1],[112.7,65.5],[109.4,57.4],[112.2,61.8],[117.8,65.9],[107.2,75.1],[104.6,82.7],[104.3,96.6],[100.9,84.3],[100.9,95.6],[100.0,74.1],[98.6,72.2],[100.9,67.5],[99.9,52.0],[98.5,51.1],[96.3,62.8],[95.5,52.0],[93.4,54.0],[92.6,57.0],[91.9,65.7],[90.1,68.6],[91.5,73.0],[89.6,74.4],[88.9,53.8],[87.5,58.0],[86.3,64.2],[83.4,59.0],[82.6,68.6],[80.3,77.3],[80.3,53.8],[78.0,62.8],[77.4,46.0],[76.0,56.5],[75.3,52.0],[73.3,44.0],[71.6,46.0],[70.1,49.8],[70.8,60.5],[68.7,44.0],[68.4,41.0],[66.5,44.3],[63.6,34.6],[62.9,37.6],[61.5,59.0],[62.9,55.6],[59.7,38.5],[56.3,39.5],[55.6,50.1],[55.4,46.8],[53.4,35.6],[49.1,28.6],[45.5,27.6],[44.0,33.4],[42.9,30.9],[41.1,28.8],[39.2,25.1],[36.7,21.2],[34.1,25.1],[32.4,19.4],[30.9,22.3],[29.5,21.2],[26.9,16.5],[24.8,15.1],[23.7,18.4],[23.0,19.4],[25.5,17.0],[27.8,19.5],[30.2,22.0],[33.0,24.8],[35.5,27.0],[38.0,30.1],[41.9,31.5],[44.5,35.8],[47.0,39.0],[21.6,14.0],[19.0,12.5],[16.5,11.2],[14.5,9.0],[29.0,14.2],[57.8,45.2],[60.8,48.9],[64.2,52.1],[67.9,55.0],[72.5,58.3],[79.1,66.0],[84.0,72.5],[88.0,79.0],[94.8,83.5],[103.0,90.0],[111.5,98.8],[119.2,106.0],[128.0,112.8],[130.6,119.0],[146.0,133.0],[155.0,143.2]];

// panel c, Neural Net
const netC = [[3.3,5.0],[3.9,8.1],[4.4,4.6],[4.9,7.2],[5.6,10.3],[6.0,5.8],[6.5,9.0],[7.2,12.4],[7.6,7.5],[8.1,10.6],[8.9,9.0],[9.3,14.1],[9.8,11.7],[10.6,13.0],[11.1,10.2],[11.5,16.3],[12.3,14.4],[12.9,12.1],[13.3,17.9],[14.0,15.3],[14.8,19.6],[15.1,14.0],[15.7,18.2],[16.5,21.8],[16.8,17.4],[17.6,20.0],[18.1,23.5],[18.7,19.1],[19.4,22.6],[19.8,25.9],[20.5,21.0],[21.1,24.7],[21.6,28.0],[22.2,23.4],[22.9,26.1],[23.3,29.8],[23.9,24.9],[24.6,28.6],[25.2,31.3],[25.7,26.6],[26.3,30.7],[26.9,33.2],[27.6,28.4],[28.0,31.9],[28.7,35.1],[29.3,30.2],[29.8,33.8],[30.5,37.0],[31.0,31.9],[31.6,35.5],[32.3,38.6],[32.8,34.0],[33.4,37.9],[34.1,40.2],[34.6,35.2],[35.3,39.5],[35.7,42.8],[36.4,37.6],[37.0,41.0],[37.4,44.5],[38.2,39.7],[38.7,43.1],[39.3,46.0],[39.9,41.2],[40.4,45.6],[41.2,48.3],[41.6,42.9],[42.3,47.2],[42.8,50.4],[43.5,44.5],[44.0,48.9],[44.6,52.3],[45.1,46.8],[45.8,50.6],[46.3,54.0],[47.0,48.2],[47.6,52.4],[48.0,55.7],[48.7,50.1],[49.4,54.5],[49.9,57.8],[50.5,51.8],[51.0,56.3],[51.8,59.5],[52.2,53.5],[52.9,57.9],[53.5,61.7],[54.1,55.0],[54.6,59.8],[55.3,63.4],[55.8,57.2],[56.4,61.5],[57.1,64.8],[57.5,58.6],[58.3,63.3],[58.8,66.9],[59.4,60.6],[60.0,65.1],[60.6,68.7],[61.1,62.0],[61.9,66.8],[62.3,70.6],[63.0,64.1],[63.6,68.3],[64.2,72.4],[64.7,65.5],[65.4,70.2],[65.9,74.0],[66.6,67.9],[67.2,72.0],[67.7,75.8],[68.4,69.3],[68.8,73.9],[69.6,77.3],[70.1,71.1],[70.7,75.7],[71.3,79.4],[71.9,72.8],[72.5,77.5],[73.0,81.0],[73.7,74.2],[74.2,79.2],[74.9,82.6],[75.5,76.4],[76.0,80.9],[76.6,84.6],[77.3,78.0],[77.8,82.8],[78.5,86.3],[79.0,79.6],[79.7,84.4],[80.3,88.1],[80.9,81.5],[81.4,86.2],[82.1,89.6],[82.7,83.0],[83.2,87.9],[83.8,91.5],[84.5,85.1],[85.0,89.4],[85.7,93.0],[86.2,86.4],[86.9,91.6],[87.5,94.8],[88.0,88.6],[88.6,93.1],[89.3,96.9],[89.8,90.2],[90.5,95.0],[91.1,98.4],[91.6,92.1],[92.3,96.7],[92.9,100.3],[93.4,93.6],[94.1,98.5],[94.7,102.1],[95.3,95.4],[95.8,100.0],[96.5,103.6],[97.1,97.5],[97.6,101.9],[98.3,105.3],[98.9,99.0],[99.4,103.6],[100.1,107.2],[100.7,100.8],[101.2,105.4],[101.9,108.6],[102.4,102.7],[103.0,107.1],[103.7,110.5],[104.2,104.3],[104.8,108.7],[105.5,112.3],[106.0,106.2],[106.6,110.6],[107.2,113.8],[107.8,107.7],[108.4,112.4],[108.9,115.6],[109.6,109.4],[110.2,114.1],[110.7,117.5],[111.3,111.0],[112.0,115.9],[112.5,119.1],[113.1,112.9],[113.8,117.4],[114.3,121.0],[114.9,114.3],[115.5,119.2],[116.1,122.7],[116.7,116.2],[117.3,121.0],[117.8,124.4],[118.5,117.9],[119.1,122.6],[119.6,126.2],[120.2,119.5],[120.9,124.5],[121.4,127.8],[122.0,121.3],[122.7,126.1],[123.2,129.7],[123.8,123.0],[124.4,127.9],[125.0,131.2],[125.6,124.8],[126.2,129.5],[126.8,133.0],[127.4,126.4],[127.9,131.3],[128.6,134.8],[129.2,128.1],[129.7,133.0],[130.4,136.3],[131.0,129.8],[131.5,134.7],[132.2,138.1],[132.8,131.5],[133.3,136.4],[133.9,139.9],[134.6,133.2],[135.1,138.0],[135.7,141.6],[136.4,134.9],[136.9,139.8],[137.5,143.2],[138.1,136.5],[138.7,141.5],[139.3,144.9],[139.9,138.3],[140.5,143.1],[141.0,146.7],[141.7,140.0],[142.3,144.9],[142.8,148.3],[143.5,141.6],[144.1,146.6],[144.6,150.0],[145.2,143.4],[145.9,148.2],[146.4,151.8],[147.0,145.1],[147.6,150.0],[148.2,153.5],[148.8,146.7],[149.3,151.8],[150.0,155.2],[150.6,148.5],[151.1,153.4],[151.8,157.0],[152.4,150.1],[152.9,155.1],[153.5,158.6],[154.2,151.8],[154.7,156.8],[155.3,160.4],[155.9,153.5],[156.5,158.5],[157.1,162.1],[157.7,155.2],[158.2,160.3],[158.9,163.9],[159.5,156.9],[160.0,162.0],[160.6,165.6],[161.3,158.6],[161.8,163.7],[162.4,167.3],[163.0,160.2],[163.6,165.3],[164.2,169.0],[164.8,161.9],[165.4,167.1],[165.9,170.6],[166.6,163.6],[167.2,168.9],[167.7,172.3],[168.3,165.3],[168.9,170.5],[169.5,174.1],[170.1,167.0],[170.7,172.3],[171.2,175.7],[171.9,168.7],[172.5,173.9],[173.0,177.5],[173.6,170.4],[174.2,175.6],[174.8,179.2],[175.4,172.1],[176.0,177.3],[176.5,174.0],[177.2,178.9],[177.8,175.5],[178.4,177.9],[179.0,176.2],[179.4,179.0],[6.0,14.5],[9.0,19.2],[12.5,22.0],[15.5,25.6],[19.0,29.8],[22.0,33.0],[25.3,36.4],[28.5,40.1],[31.8,43.5],[34.9,47.0],[38.0,50.6],[41.0,53.2],[44.3,57.0],[47.4,60.8],[50.6,63.9],[53.8,67.2],[56.7,70.5],[59.9,74.1],[62.8,77.6],[65.5,80.3],[68.1,83.0],[71.0,85.9],[73.9,89.4],[76.5,92.0],[79.2,94.6],[82.0,98.3],[84.8,101.0],[87.6,104.4],[90.3,106.8],[93.0,110.0],[95.7,112.6],[98.1,115.9],[100.8,118.7],[103.5,121.0],[106.2,123.8],[108.8,126.5],[111.5,129.0],[114.2,131.4],[117.0,134.6],[119.7,137.0],[122.4,139.5],[125.1,142.3],[127.8,144.8],[130.5,147.1],[133.2,150.4],[135.9,152.8],[138.6,155.3],[141.3,157.4],[144.0,160.1],[146.7,162.9],[149.4,165.7],[152.1,167.6],[154.8,170.3],[157.5,172.8],[160.2,175.5],[162.9,178.0],[7.5,13.0],[10.7,16.5],[14.0,20.2],[17.2,23.9],[20.3,27.0],[23.5,30.8],[26.6,34.0],[29.7,37.6],[32.9,40.9],[36.0,44.6],[39.1,47.9],[42.2,51.0],[45.4,54.6],[48.5,57.9],[51.6,61.3],[54.7,64.8],[57.9,68.1],[61.0,71.4],[64.1,74.8],[67.0,78.2],[70.0,81.5],[72.8,84.7],[75.7,87.9],[78.6,91.0],[81.5,94.4],[84.2,97.7],[87.0,100.6],[89.8,103.9],[92.6,107.0],[95.3,110.1],[98.0,113.3],[100.6,116.0],[103.3,118.8],[106.0,121.2],[108.6,124.1],[111.3,126.8],[114.0,129.4],[116.6,132.5],[119.3,135.1],[122.0,137.7],[124.7,140.4],[127.4,143.0],[130.0,145.3],[132.7,147.9],[135.4,150.1],[138.1,153.2],[140.8,155.6],[143.5,157.8],[146.2,160.5],[148.9,163.1],[151.6,165.0],[154.3,168.1],[157.0,170.0],[159.7,172.6],[162.4,175.3],[165.1,177.1],[4.2,6.8],[5.3,11.9],[7.0,9.4],[8.5,14.2],[10.0,12.6],[11.8,18.0],[13.7,16.3],[15.3,21.4],[17.9,20.5],[19.1,25.2],[21.3,23.8],[23.1,29.5],[24.4,27.3],[26.0,32.7],[27.9,30.2],[30.0,36.4],[31.3,34.3],[33.2,39.5],[35.0,37.7],[36.7,43.9],[38.4,41.1],[40.1,47.2],[42.0,44.6],[43.3,51.5],[45.0,48.0],[46.9,54.2],[48.3,51.2],[50.0,57.3],[52.0,54.9],[53.0,61.0],[55.1,58.0],[56.2,64.4],[58.0,61.0],[59.6,67.5],[61.5,64.7],[62.7,71.3],[64.5,67.8],[66.1,74.6],[67.9,70.9],[69.4,78.3],[71.1,74.0],[72.7,81.6],[74.6,77.4],[76.3,85.0],[77.9,80.5],[79.6,88.7],[81.2,83.8],[82.9,92.0],[84.7,87.4],[86.5,95.3],[88.3,90.8],[89.9,98.5],[91.4,94.6],[93.2,102.0],[95.0,97.6],[96.8,105.4],[98.5,101.0],[100.3,108.9],[102.2,104.6],[104.0,112.6],[105.8,108.0],[107.5,116.0],[109.2,111.4],[111.0,119.6],[112.8,115.3],[114.6,123.0],[116.4,118.9],[118.1,126.4],[119.9,122.3],[121.6,129.9],[123.5,126.0],[125.3,133.5],[127.1,129.4],[128.9,137.0],[130.7,133.1],[132.4,140.5],[134.2,136.6],[136.0,144.3],[137.8,140.0],[139.6,147.6],[141.4,143.5],[143.2,151.3],[145.0,147.5],[146.8,154.7],[148.6,150.8],[150.4,158.3],[152.2,154.1],[154.0,161.6],[155.8,157.9],[157.6,165.4],[159.4,161.2],[161.2,168.7],[163.0,164.9],[164.8,172.1],[166.6,168.3],[168.4,175.6],[170.2,171.6],[172.0,178.8],[173.8,174.9],[175.6,176.6],[177.5,179.2],[178.2,173.4],[170.0,160.5],[174.3,166.8],[176.7,170.2],[178.8,172.2],[166.0,158.0],[162.0,155.6],[157.8,150.0],[168.9,177.5],[171.5,179.3],[120.0,100.0],[122.9,93.6],[127.3,84.2],[127.3,88.3],[147.4,102.2],[147.4,83.6],[159.2,94.1],[113.3,97.9],[88.7,53.8],[75.5,48.0],[60.0,39.7],[19.4,9.2],[144.2,164.6],[144.6,161.5],[145.4,158.0],[147.5,171.2],[151.7,165.4],[93.4,114.1],[75.9,101.5],[152.3,140.0],[155.0,146.8],[160.5,151.0],[165.2,158.0],[168.0,160.2],[172.5,162.5],[175.0,164.8],[163.5,173.0],[158.0,170.5],[150.5,164.0],[140.6,153.0],[135.2,147.5],[130.1,142.0],[125.6,136.0],[62.5,58.2],[70.3,66.4],[100.0,96.0],[108.3,103.8],[115.0,111.5],[138.0,131.0],[142.0,136.0],[105.0,100.6]];

// ---- layout ----
let LEFT = 198;
let RIGHT = 1222;
let TOPS = [153, 853, 1556];
let BOTTOMS = [557, 1258, 1958];
let YLABEL_X = [88, 110, 88];
let DOT_R = 4;
let AXIS_COLOR = '#262626';
let FIT_COLOR = '#0072BD';
let NET_COLOR = '#D95319';

let svg = d3.select('#fig');

let panels = [
    {fit: fitA, net: netA, diag: diagA},
    {fit: fitB, net: netB, diag: diagB},
    {fit: fitC, net: netC, diag: diagC}
];

panels.forEach((p, i) => draw_panel(i, p));
draw_legend();

// Draws one scatter panel with its titles, axes and labels
function draw_panel(i, p) {
    let top = TOPS[i], bottom = BOTTOMS[i];
    let dom = domains[i];

    let xScale = d3.scaleLinear().domain(dom).range([LEFT, RIGHT]);
    let yScale = d3.scaleLinear().domain(dom).range([bottom, top]);

    let g = svg.append('g').attr('id', 'panel_' + i);

    // keep only points whose centre lies inside the axes (MATLAB clipping)
    let inside = d => d[0] >= dom[0] && d[0] <= dom[1] && d[1] >= dom[0] && d[1] <= dom[1];

    g.append('g')
        .selectAll('circle')
        .data(p.fit.filter(inside))
        .join('circle')
        .attr('cx', d => xScale(d[0]))
        .attr('cy', d => yScale(d[1]))
        .attr('r', DOT_R)
        .attr('fill', FIT_COLOR);

    g.append('g')
        .selectAll('circle')
        .data(p.net.filter(inside))
        .join('circle')
        .attr('cx', d => xScale(d[0]))
        .attr('cy', d => yScale(d[1]))
        .attr('r', DOT_R)
        .attr('fill', NET_COLOR);

    g.append('path')
        .datum(p.diag)
        .attr('d', d3.line().x(d => xScale(d[0])).y(d => yScale(d[1])))
        .attr('stroke', 'black')
        .attr('stroke-width', 9)
        .attr('fill', 'none');

    // Axes: ticks inside on all four sides
    let axes = [
        [d3.axisBottom(xScale).tickValues(xTicks[i]).tickPadding(30), `translate(0,${bottom})`],
        [d3.axisTop(xScale).tickValues(xTicks[i]).tickFormat(''), `translate(0,${top})`],
        [d3.axisLeft(yScale).tickValues(yTicks[i]).tickPadding(14), `translate(${LEFT},0)`],
        [d3.axisRight(yScale).tickValues(yTicks[i]).tickFormat(''), `translate(${RIGHT},0)`]
    ];
    axes.forEach(([ax, tr]) => {
        let a = g.append('g')
            .attr('transform', tr)
            .call(ax.tickSizeInner(-10).tickSizeOuter(0))
            .attr('font-size', 40)
            .attr('font-family', '"Liberation Sans", Arial, sans-serif');
        a.selectAll('path, line').attr('stroke', AXIS_COLOR).attr('stroke-width', 2);
        a.selectAll('text').attr('fill', AXIS_COLOR);
    });

    // panel letter
    g.append('text')
        .attr('x', RIGHT - 9)
        .attr('y', bottom - 22)
        .attr('text-anchor', 'end')
        .attr('font-size', 48)
        .attr('fill', AXIS_COLOR)
        .text(panelLetters[i]);

    // axis labels
    g.append('text')
        .attr('x', (LEFT + RIGHT) / 2)
        .attr('y', bottom + 119)
        .attr('text-anchor', 'middle')
        .attr('font-size', 44)
        .attr('fill', AXIS_COLOR)
        .text(xLabel);

    g.append('text')
        .attr('transform', `translate(${YLABEL_X[i]},${(top + bottom) / 2}) rotate(-90)`)
        .attr('text-anchor', 'middle')
        .attr('font-size', 44)
        .attr('fill', AXIS_COLOR)
        .text(yLabel);

    // title line 1: symbol with subscript
    let cx = (LEFT + RIGHT) / 2;
    let t1 = g.append('text')
        .attr('x', cx)
        .attr('y', top - 101)
        .attr('text-anchor', 'middle')
        .attr('font-weight', 'bold')
        .attr('font-size', 46)
        .attr('fill', 'black');
    t1.append('tspan').text(titleSymbols[i][0]);
    t1.append('tspan').attr('dy', 22).attr('font-size', 37).text(titleSymbols[i][1]);

    // title line 2: RMSE text, "^3" becomes a superscript
    let t2 = g.append('text')
        .attr('x', cx)
        .attr('y', top - 20)
        .attr('text-anchor', 'middle')
        .attr('font-weight', 'bold')
        .attr('font-size', 46)
        .attr('fill', 'black')
        .attr('xml:space', 'preserve')
        .style('white-space', 'pre');
    let parts = titleRmse[i].split(/\^(\d)/);
    parts.forEach((s, j) => {
        if (j % 2 == 1) {
            t2.append('tspan').attr('dy', -30).attr('font-size', 32).text(s);
        } else {
            t2.append('tspan').attr('dy', j > 0 ? 30 : null).text(s);
        }
    });
}

// Legend box in panel a
function draw_legend() {
    let lg = svg.append('g').attr('id', 'legend');
    lg.append('rect')
        .attr('x', 219).attr('y', 180)
        .attr('width', 226).attr('height', 98)
        .attr('fill', 'white')
        .attr('stroke', AXIS_COLOR)
        .attr('stroke-width', 1.5);

    let colors = [FIT_COLOR, NET_COLOR];
    let rows = lg.selectAll('g.row')
        .data(legendLabels)
        .join('g')
        .attr('class', 'row')
        .attr('transform', (d, k) => `translate(0,${k * 53})`);
    rows.append('circle')
        .attr('cx', 242).attr('cy', 205).attr('r', 4)
        .attr('fill', (d, k) => colors[k]);
    rows.append('text')
        .attr('x', 262).attr('y', 218)
        .attr('font-size', 35)
        .attr('fill', 'black')
        .text(d => d);
}
</script>
</body>
</html>
